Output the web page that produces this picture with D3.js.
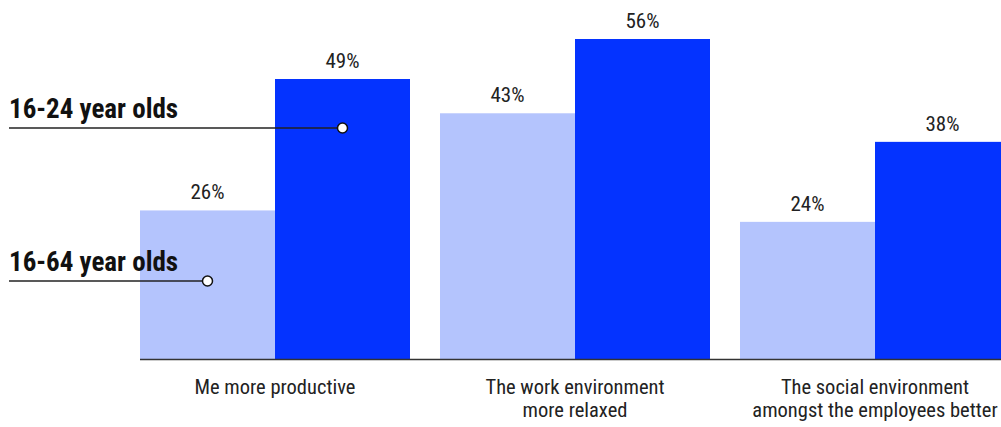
<!DOCTYPE html>
<html>
<head>
<meta charset="utf-8">
<script src="https://cdn.jsdelivr.net/npm/d3@7"></script>
<style>
  body { margin: 0; background: #fff; }
  svg text { font-family: "Roboto Condensed", "Liberation Sans Narrow", "Arial Narrow", "DejaVu Sans Condensed", sans-serif; font-stretch: condensed; }
</style>
</head>
<body>
<svg id="viz" width="1001" height="427"></svg>
<script>
// chart data
const categories = [
    ["Me more productive"],
    ["The work environment", "more relaxed"],
    ["The social environment", "amongst the employees better"]
];
const groups = ["16-64 year olds", "16-24 year olds"];
const all = [26, 43, 24];      // 16-64 year olds
const young = [49, 56, 38];    // 16-24 year olds

const colors = ["#b4c4fd", "#0433ff"];

var svg = d3.select("#viz");
var width = +svg.attr("width");

const x = d3.scaleBand()
    .domain(d3.range(categories.length))
    .range([140, 1010])
    .paddingInner(0.1)
    .paddingOuter(0);

const xs = d3.scaleBand()
    .domain([0, 1])
    .range([0, x.bandwidth()]);

const y = d3.scaleLinear()
    .domain([0, 56])
    .range([359, 39]);

const series = [all, young];

const g = svg.selectAll("g.cat")
    .data(categories)
    .enter()
    .append("g")
    .attr("class", "cat")
    .attr("transform", (d, i) => `translate(${x(i)},0)`);

series.forEach((vals, s) => {
    g.append("rect")
        .attr("x", xs(s))
        .attr("width", xs.bandwidth())
        .attr("y", (d, i) => y(vals[i]))
        .attr("height", (d, i) => y(0) - y(vals[i]))
        .attr("fill", colors[s]);
    g.append("text")
        .attr("x", xs(s) + xs.bandwidth() / 2)
        .attr("y", (d, i) => y(vals[i]) - 11)
        .attr("text-anchor", "middle")
        .attr("font-size", 21)
        .attr("fill", "#222")
        .text((d, i) => vals[i] + "%");
});

// baseline
svg.append("line")
    .attr("x1", 140)
    .attr("x2", width)
    .attr("y1", y(0) + 0.5)
    .attr("y2", y(0) + 0.5)
    .attr("stroke", "#333")
    .attr("stroke-width", 1.5);

// category labels
g.append("text")
    .attr("x", x.bandwidth() / 2)
    .attr("y", 394)
    .attr("text-anchor", "middle")
    .attr("font-size", 20.5)
    .attr("fill", "#222")
    .selectAll("tspan")
    .data(d => d)
    .enter()
    .append("tspan")
    .attr("x", x.bandwidth() / 2)
    .attr("dy", (d, i) => i === 0 ? 0 : 23)
    .text(d => d);

// legend callouts
const legend = [
    { name: groups[1], ly: 128, cat: 0, s: 1, ty: 118 },
    { name: groups[0], ly: 281, cat: 0, s: 0, ty: 271 }
];

const lg = svg.append("g").attr("class", "legend");
legend.forEach(d => {
    const cx = x(d.cat) + xs(d.s) + xs.bandwidth() / 2;
    lg.append("text")
        .attr("x", 9)
        .attr("y", d.ty)
        .attr("font-size", 27)
        .attr("font-weight", "bold")
        .attr("fill", "#111")
        .text(d.name);
    lg.append("line")
        .attr("x1", 9)
        .attr("x2", cx)
        .attr("y1", d.ly)
        .attr("y2", d.ly)
        .attr("stroke", "#222")
        .attr("stroke-width", 1.5);
    lg.append("circle")
        .attr("cx", cx)
        .attr("cy", d.ly)
        .attr("r", 5)
        .attr("fill", "#fff")
        .attr("stroke", "#111")
        .attr("stroke-width", 1.5);
});
</script>
</body>
</html>
